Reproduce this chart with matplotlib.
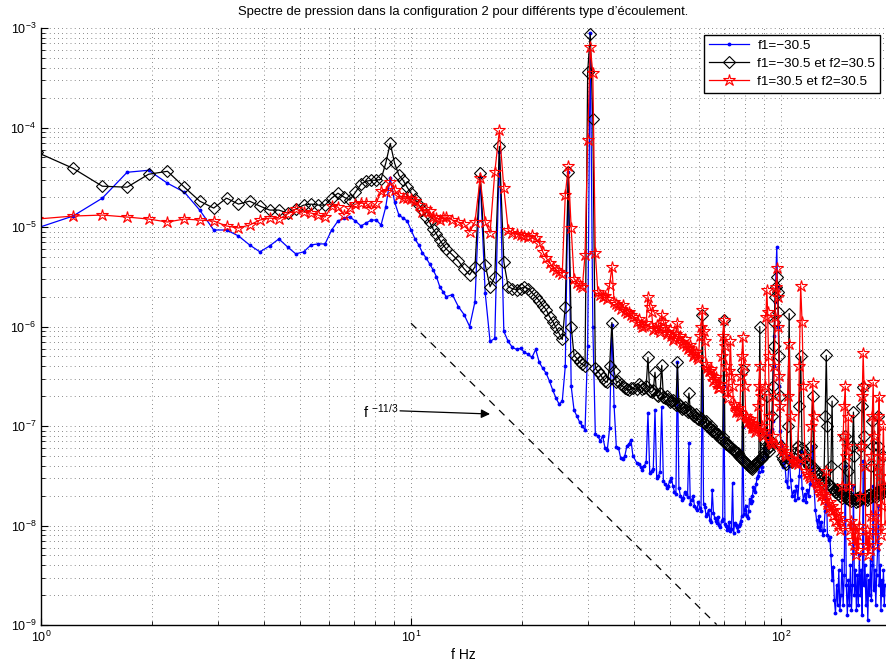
import numpy as np
import matplotlib
matplotlib.use("Agg")
import matplotlib.pyplot as plt
from matplotlib.ticker import LogLocator, NullFormatter

plt.rcParams['font.family'] = ['Liberation Sans', 'DejaVu Sans']
plt.rcParams['mathtext.default'] = 'regular'

# ---------------- data ----------------
df = 0.2441  # frequency resolution (Hz)
bins_A = np.arange(4, 51)          # fine part (every bin)
bins_B = np.arange(51, 164, 2)     # every 2nd bin
bins_C = np.arange(167, 784, 4)    # every 4th bin
bins_D = np.arange(169, 410, 4)    # extra bins between 40 and 100 Hz

# log10 of the spectra
blue_A = [-5.01, -4.89, -4.71, -4.45, -4.43, -4.56, -4.65, -4.83, -5.03, -5.03,
          -5.09, -5.18, -5.25, -5.19, -5.12, -5.20, -5.27, -5.25, -5.18, -5.17,
          -5.17, -5.03, -4.94, -4.91, -4.90, -4.94, -4.99, -4.96, -4.93, -4.93,
          -4.98, -4.80, -4.51, -4.75, -4.88, -4.91, -4.94, -5.03, -5.12, -5.18,
          -5.26, -5.31, -5.37, -5.43, -5.50, -5.60, -5.65]
blue_B = [-5.70, -5.68, -5.80, -5.88, -6.00, -5.75, -4.50, -5.66, -6.15, -6.12,
          -4.25, -6.05, -6.15, -6.21, -6.23, -6.22, -6.26, -6.28, -6.31, -6.23,
          -6.36, -6.42, -6.47, -6.55, -6.64, -6.72, -6.78, -6.75, -6.40, -4.45,
          -6.60, -6.84, -6.90, -6.96, -7.00, -7.04, -6.20, -3.05, -6.00, -7.08,
          -7.10, -7.15, -7.10, -7.22, -7.24, -7.02, -5.98, -6.80, -7.21, -7.22,
          -7.32, -7.33, -7.30, -7.20, -7.18, -7.14, -7.30]
blue_C = [-7.37, -7.41, -7.40, -6.87, -7.45, -6.84, -7.50, -6.81, -7.58, -7.60,
          -7.52, -7.66, -6.36, -7.70, -7.72, -7.68, -7.17, -7.74, -7.80, -7.84,
          -7.82, -6.40, -7.81, -7.88, -7.94, -7.64, -7.92, -7.97, -7.99, -7.95,
          -6.60, -8.01, -8.03, -8.06, -7.57, -7.97, -8.02, -8.00, -7.95, -7.01,
          -7.84, -7.90, -7.85, -7.77, -7.70, -7.64, -7.58, -7.50, -7.40, -7.45,
          -7.33, -7.27, -7.14, -7.07, -7.10, -7.03, -6.40, -5.75, -5.20, -6.00,
          -7.05, -7.20, -7.41, -7.35, -7.55, -7.61, -7.30, -7.54, -7.70, -7.65,
          -7.74, -7.60, -7.72, -7.50, -7.25, -7.62, -7.74, -7.68, -7.76, -7.64,
          -7.70, -7.58, -7.45, -7.20, -7.60, -7.84, -7.94, -8.02, -7.90, -8.05,
          -7.96, -8.10, -8.05, -7.85, -7.60, -8.10, -8.15, -8.12, -8.30, -8.55,
          -8.42, -8.75, -8.88, -8.60, -8.80, -8.45, -8.85, -8.70, -8.35, -8.80,
          -8.50, -7.40, -8.60, -8.90, -8.55, -8.80, -8.40, -8.85, -8.60, -7.60,
          -8.70, -8.45, -8.85, -8.50, -8.80, -8.30, -8.70, -8.45, -8.90, -7.35,
          -8.60, -8.40, -8.80, -8.50, -8.95, -8.55, -8.70, -8.35, -8.75, -8.40,
          -7.60, -8.65, -8.45, -8.80, -8.50, -8.25, -7.80, -8.60, -8.40, -8.85,
          -8.55, -8.70, -8.45, -8.80, -8.60]
blue_D = [-7.38, -7.44, -7.36, -7.47, -7.43, -7.52, -7.46, -7.55, -7.62, -7.55,
          -7.60, -7.68, -7.62, -7.74, -7.66, -7.71, -7.78, -7.70, -7.82, -7.76,
          -7.85, -7.78, -7.90, -7.84, -7.96, -7.87, -7.95, -7.91, -8.02, -7.93,
          -7.98, -8.05, -7.96, -8.04, -8.08, -7.99, -8.06, -7.98, -7.90, -7.88,
          -7.80, -7.92, -7.73, -7.75, -7.61, -7.66, -7.52, -7.46, -7.38, -7.41,
          -7.22, -7.30, -7.12, -7.18, -7.05, -6.95, -6.10, -5.45, -5.60, -6.60,
          -7.15]

black_A = [-4.25, -4.41, -4.59, -4.60, -4.47, -4.44, -4.60, -4.74, -4.81, -4.71,
           -4.77, -4.74, -4.79, -4.83, -4.83, -4.86, -4.82, -4.78, -4.77, -4.78,
           -4.78, -4.71, -4.66, -4.70, -4.73, -4.65, -4.57, -4.54, -4.53, -4.53,
           -4.52, -4.36, -4.16, -4.36, -4.48, -4.53, -4.60, -4.66, -4.72, -4.78,
           -4.83, -4.90, -4.95, -5.02, -5.07, -5.13, -5.18]
black_B = [-5.22, -5.28, -5.34, -5.42, -5.48, -5.40, -4.46, -5.38, -5.60, -5.50,
           -4.19, -5.35, -5.60, -5.62, -5.63, -5.62, -5.60, -5.62, -5.66, -5.70,
           -5.74, -5.79, -5.83, -5.90, -5.95, -6.01, -6.07, -6.13, -5.80, -4.45,
           -6.00, -6.29, -6.32, -6.36, -6.38, -6.40, -3.44, -3.06, -3.91, -6.42,
           -6.45, -6.48, -6.52, -6.55, -6.56, -6.40, -5.96, -6.45, -6.56, -6.55,
           -6.58, -6.60, -6.62, -6.63, -6.64, -6.62, -6.62]
black_C = [-6.63, -6.60, -6.62, -6.31, -6.66, -6.46, -6.70, -6.39, -6.72, -6.73,
           -6.75, -6.77, -6.36, -6.80, -6.82, -6.84, -6.67, -6.87, -6.90, -6.92,
           -6.94, -5.88, -6.97, -7.00, -7.02, -7.05, -7.06, -7.09, -7.11, -7.13,
           -5.93, -7.18, -7.19, -7.21, -7.23, -7.25, -7.28, -7.30, -7.32, -6.44,
           -7.36, -7.38, -7.40, -7.42, -7.41, -7.39, -7.37, -7.35, -6.00, -7.32,
           -7.30, -7.15, -6.70, -7.25, -7.20, -6.90, -6.20, -5.70, -5.50, -5.85,
           -6.70, -7.30, -7.33, -7.36, -7.38, -7.00, -5.87, -7.35, -7.36, -7.32,
           -7.27, -7.22, -7.20, -6.80, -6.30, -7.22, -7.27, -7.31, -7.35, -7.37,
           -7.40, -7.38, -7.20, -6.70, -7.42, -7.45, -7.47, -7.50, -7.48, -7.52,
           -7.55, -7.53, -7.57, -6.90, -6.29, -7.00, -7.58, -7.60, -7.40, -6.75,
           -7.62, -7.64, -7.66, -7.63, -7.68, -7.65, -7.70, -7.67, -7.72, -7.69,
           -7.40, -7.10, -7.72, -7.70, -7.45, -7.74, -7.71, -7.75, -7.20, -6.86,
           -7.30, -7.73, -7.76, -7.72, -7.75, -7.71, -7.74, -7.20, -6.80, -6.61,
           -7.10, -7.73, -7.70, -7.74, -7.69, -7.72, -7.68, -7.71, -7.40, -6.95,
           -7.20, -7.70, -7.67, -7.71, -7.66, -7.20, -6.90, -7.68, -7.64, -7.68,
           -7.63, -7.30, -7.66, -7.62, -7.65]
black_D = [-6.58, -6.63, -6.60, -6.65, -6.64, -6.69, -6.67, -6.71, -6.70, -6.76,
           -6.74, -6.79, -6.78, -6.83, -6.81, -6.86, -6.85, -6.89, -6.88, -6.93,
           -6.92, -6.96, -6.95, -7.01, -7.00, -7.04, -7.07, -7.08, -7.12, -7.11,
           -7.16, -7.17, -7.20, -7.22, -7.24, -7.26, -7.27, -7.31, -7.33, -7.35,
           -7.37, -7.39, -7.41, -7.43, -7.40, -7.38, -7.36, -7.34, -7.33, -7.31,
           -7.26, -7.20, -7.22, -7.21, -7.15, -6.60, -5.95, -5.60, -5.65, -6.30,
           -7.20]

red_A = [-4.92, -4.89, -4.88, -4.90, -4.92, -4.95, -4.92, -4.93, -4.94, -4.99,
         -5.01, -4.98, -4.93, -4.91, -4.92, -4.87, -4.82, -4.85, -4.86, -4.88,
         -4.90, -4.79, -4.80, -4.88, -4.81, -4.77, -4.76, -4.76, -4.82, -4.76,
         -4.64, -4.65, -4.55, -4.63, -4.68, -4.71, -4.71, -4.72, -4.74, -4.78,
         -4.85, -4.82, -4.84, -4.90, -4.91, -4.93, -4.90]
red_B = [-4.90, -4.93, -4.95, -4.97, -5.05, -4.95, -4.51, -4.95, -5.06, -4.45,
         -4.03, -4.61, -5.03, -5.06, -5.07, -5.08, -5.09, -5.10, -5.08, -5.11,
         -5.16, -5.25, -5.31, -5.36, -5.40, -5.43, -5.45, -5.47, -4.68, -4.39,
         -5.01, -5.52, -5.56, -5.58, -5.60, -5.28, -4.13, -3.19, -3.45, -5.26,
         -5.65, -5.68, -5.70, -5.69, -5.72, -5.58, -5.40, -5.75, -5.77, -5.79,
         -5.82, -5.78, -5.84, -5.86, -5.85, -5.88, -5.90]
red_C = [-5.95, -5.97, -5.99, -5.70, -5.85, -6.02, -6.03, -5.88, -6.00, -6.06,
         -6.10, -6.12, -5.96, -6.10, -6.18, -6.20, -6.22, -6.25, -6.28, -6.31,
         -6.10, -5.83, -6.15, -6.42, -6.45, -6.50, -6.53, -6.58, -6.62, -6.30,
         -5.93, -6.40, -6.72, -6.15, -6.60, -6.80, -6.84, -6.86, -6.50, -6.11,
         -6.60, -6.92, -6.95, -6.97, -7.00, -7.02, -7.04, -6.80, -6.40, -7.00,
         -7.10, -6.60, -5.63, -6.30, -7.15, -7.18, -6.70, -5.90, -5.41, -6.00,
         -6.80, -7.22, -7.25, -7.28, -7.30, -6.70, -6.18, -6.90, -7.33, -7.35,
         -7.37, -7.36, -7.38, -6.40, -5.59, -5.95, -6.60, -7.30, -7.45, -7.48,
         -7.50, -7.52, -7.00, -6.57, -6.90, -7.55, -7.58, -7.62, -7.60, -7.66,
         -7.70, -7.68, -7.74, -7.70, -7.45, -7.78, -7.82, -7.76, -7.85, -7.80,
         -7.90, -7.84, -7.95, -7.88, -8.00, -7.92, -8.05, -7.96, -7.60, -7.10,
         -6.80, -6.60, -7.30, -7.20, -6.91, -7.60, -8.05, -7.95, -8.15, -8.00,
         -8.20, -8.05, -8.30, -8.10, -8.25, -8.00, -7.70, -7.20, -6.70, -6.27,
         -6.60, -7.40, -8.20, -8.05, -8.30, -8.10, -8.25, -7.90, -7.30, -6.90,
         -6.56, -7.10, -7.90, -8.20, -8.00, -7.40, -6.90, -6.71, -7.50, -8.10,
         -7.80, -7.30, -7.00, -7.60, -8.00]
red_D = [-5.92, -6.00, -5.96, -5.80, -6.04, -5.98, -6.06, -5.95, -6.08, -6.03,
         -6.14, -6.08, -6.12, -6.16, -6.13, -6.23, -6.19, -6.30, -6.26, -6.33,
         -6.00, -6.05, -6.38, -6.45, -6.43, -6.55, -6.51, -6.62, -6.58, -6.10,
         -6.20, -6.66, -6.45, -6.50, -6.78, -6.86, -6.82, -6.90, -6.30, -6.40,
         -6.90, -6.96, -6.93, -7.02, -6.98, -7.06, -7.00, -6.60, -6.70, -7.08,
         -7.05, -5.90, -5.85, -6.90, -7.17, -7.10, -6.40, -5.60, -5.70, -6.50,
         -7.20]

labels = ['f1=\u221230.5', 'f1=\u221230.5 et f2=30.5', 'f1=30.5 et f2=30.5']
title = "Spectre de pression dans la configuration 2 pour diff\u00e9rents type d\u2019\u00e9coulement."
xlabel = 'f Hz'

# reference slope f^(-11/3)
ref_f = [10.0, 67.0]
ref_v0 = 1.08e-6
ref_exp = -11.0 / 3.0
arrow_tail = (9.34, 1.42e-7)
arrow_head = (16.35, 1.32e-7)
ref_label_pos = (7.4, 1.2e-7)

bins = np.concatenate([bins_A, bins_B, bins_C, bins_D])
order = np.argsort(bins)
freq = df * bins[order]
blue = 10 ** np.array(blue_A + blue_B + blue_C + blue_D)[order]
black = 10 ** np.array(black_A + black_B + black_C + black_D)[order]
red = 10 ** np.array(red_A + red_B + red_C + red_D)[order]

# ---------------- figure ----------------
W, H = 886, 665
fig = plt.figure(figsize=(W / 100, H / 100), dpi=100)
ax = fig.add_axes([41 / W, 40 / H, 845 / W, 597 / H])
ax.set_xscale('log')
ax.set_yscale('log')

ax.plot(freq, blue, color='#0000ff', lw=0.9, marker='.', ms=3.5, label=labels[0])
ax.plot(freq, black, color='k', lw=0.9, marker='D', ms=6.5, mfc='none', mec='k', mew=0.8,
        label=labels[1])
ax.plot(freq, red, color='#ff0000', lw=0.9, marker='*', ms=9, mfc='none', mec='#ff0000',
        mew=0.8, label=labels[2])

rf = np.array(ref_f)
ax.plot(rf, ref_v0 * (rf / ref_f[0]) ** ref_exp, color='k', lw=0.9, ls=(0, (6, 5)))
ax.annotate('', xy=arrow_head, xytext=arrow_tail,
            arrowprops=dict(arrowstyle='-|>', color='k', lw=0.9, mutation_scale=13,
                            shrinkA=0, shrinkB=0))
ax.text(ref_label_pos[0], ref_label_pos[1], r'f $^{-11/3}$', fontsize=10.5, ha='left',
        va='baseline')

ax.set_xlim(1, 192.2)
ax.set_ylim(1e-9, 1e-3)

ax.xaxis.set_minor_locator(LogLocator(base=10, subs=np.arange(2, 10), numticks=50))
ax.yaxis.set_minor_locator(LogLocator(base=10, subs=np.arange(2, 10), numticks=50))
ax.xaxis.set_minor_formatter(NullFormatter())
ax.yaxis.set_minor_formatter(NullFormatter())
ax.grid(True, which='both', color='0.25', linestyle=(0, (0.8, 4.2)), linewidth=0.6)
ax.set_axisbelow(True)
for s in ['top', 'right']:
    ax.spines[s].set_visible(False)
for s in ['left', 'bottom']:
    ax.spines[s].set_linewidth(1.0)
ax.tick_params(which='both', direction='in', top=False, right=False, labelsize=9)
ax.tick_params(which='major', length=5)
ax.tick_params(which='minor', length=3)

leg = ax.legend(loc='upper right', bbox_to_anchor=((880 - 41) / 845, (625 - 35) / 597),
                fontsize=9.7, handlelength=3.0, frameon=True, fancybox=False,
                borderaxespad=0, borderpad=0.35, labelspacing=0.4, handletextpad=0.6)
leg.get_frame().set_edgecolor('k')
leg.get_frame().set_linewidth(1.0)
leg.get_frame().set_alpha(1)

fig.text(463.5 / W, 1 - 12 / H, title, ha='center', va='center', fontsize=9.4)
fig.text(463.5 / W, 1 - 655 / H, xlabel, ha='center', va='center', fontsize=10)

fig.savefig('out.png', dpi=100)
